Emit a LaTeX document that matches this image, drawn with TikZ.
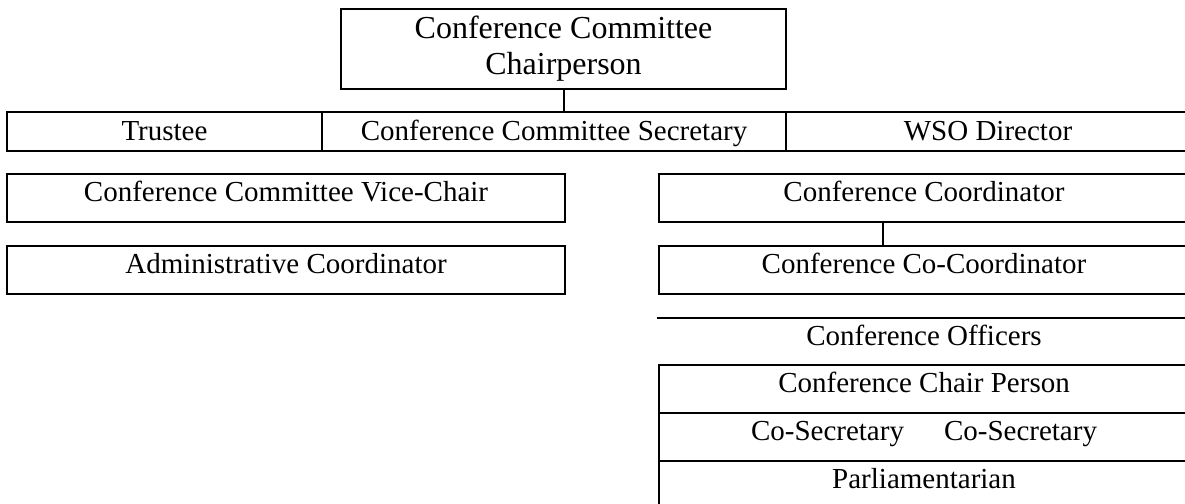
\documentclass[tikz,border=0pt]{standalone}
\usepackage{fontspec}
\setmainfont{Liberation Serif}
\begin{document}
\begin{tikzpicture}[x=1pt,y=-1pt,
  boxbase/.style={draw,line width=2pt,inner sep=0pt,outer sep=0pt,anchor=north west,font=\fontsize{29}{35}\selectfont},
  cell/.style={boxbase,minimum height=48pt,text height=20pt,text depth=14pt},
  rowcell/.style={boxbase,minimum height=39pt,text height=22pt,text depth=5pt},
  plain/.style={inner sep=0pt,anchor=base,font=\fontsize{29}{35}\selectfont},
  conn/.style={line width=2pt}]
\useasboundingbox (0,0) rectangle (1185,503);
\clip (0,0) rectangle (1185,503);
% top box
\node[boxbase,minimum width=445pt,minimum height=80pt,align=center,font=\fontsize{32}{36}\selectfont] (chair) at (341,9) {Conference Committee\\Chairperson};
% row
\node[rowcell,minimum width=315pt] (trustee) at (7,112) {Trustee};
\node[rowcell,minimum width=464pt] (sec) at (322,112) {Conference Committee Secretary};
\node[rowcell,minimum width=404pt] (wso) at (786,112) {WSO Director};
% left column
\node[cell,minimum width=558pt] (vice) at (7,174) {Conference Committee Vice-Chair};
\node[cell,minimum width=558pt] (admin) at (7,246) {Administrative Coordinator};
% right column
\node[cell,minimum width=530pt] (coord) at (659,174) {Conference Coordinator};
\node[cell,minimum width=530pt] (cocoord) at (659,246) {Conference Co-Coordinator};
% officers
\coordinate (ol) at (657,318);
\coordinate (or) at (1190,318);
\draw[conn] (ol) -- (or);
\node[plain] (officers) at (924,345) {Conference Officers};
\node[cell,minimum width=530pt] (chairp) at (659,365) {Conference Chair Person};
\node[cell,minimum width=530pt] (cosec) at (659,413) {Co-Secretary\hspace{40pt}Co-Secretary};
\node[cell,minimum width=530pt] (parl) at (659,461) {Parliamentarian};
% connectors
\draw[conn] (chair.south) -- (chair.south |- sec.north);
\path (coord.south west) ++(224,0) coordinate (k);
\draw[conn] (k) -- (k |- cocoord.north);
\end{tikzpicture}
\end{document}
